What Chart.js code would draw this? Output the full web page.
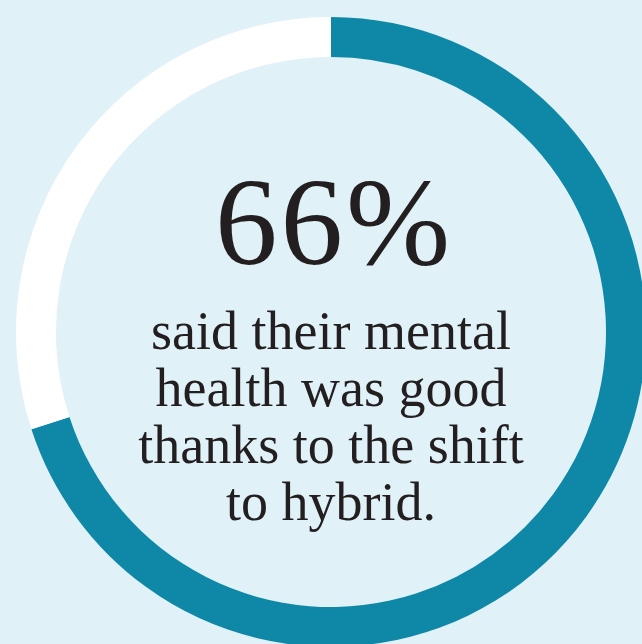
<!DOCTYPE html>
<html>
<head>
<meta charset="utf-8">
<script src="https://cdn.jsdelivr.net/npm/chart.js@4"></script>
<style>
  html, body { margin: 0; padding: 0; background: #e0f1f7; overflow: hidden; }
  #wrap { position: relative; width: 642px; height: 644px; overflow: hidden; }
  #myChart { position: absolute; left: 0; top: 0; }
  .big, .sub {
    position: absolute; left: 0; width: 662px; text-align: center;
    font-family: "Liberation Serif", "DejaVu Serif", serif; color: #231f20;
  }
  .big { left: 3px; top: 160px; font-size: 125px; line-height: 125px; letter-spacing: 3px; }
  .sub { top: 303px; font-size: 54px; line-height: 57px; }
</style>
</head>
<body>
<div id="wrap">
  <canvas id="myChart" width="646" height="647" style="width:646px;height:647px"></canvas>
  <div class="big" id="headline"></div>
  <div class="sub" id="caption"></div>
</div>
<script>
// share of the ring, as drawn
let labels = ['Good mental health', 'Other'];
let values = [70, 30];
let colors = ['#0f88a8', '#ffffff'];

let headline = '66%';
let captionLines = ['said their mental', 'health was good', 'thanks to the shift', 'to hybrid.'];

document.getElementById('headline').textContent = headline;
document.getElementById('caption').innerHTML = captionLines.join('<br>');

let ctx = document.getElementById('myChart').getContext('2d');

let chart = new Chart(ctx, {
  type: 'doughnut',
  data: {
    labels: labels,
    datasets: [{
      data: values,
      backgroundColor: colors,
      borderWidth: 0
    }]
  },
  options: {
    responsive: false,
    animation: false,
    cutout: 275,
    layout: {
      padding: { left: 16, top: 17, right: 0, bottom: 0 }
    },
    plugins: {
      legend: { display: false },
      tooltip: { enabled: false }
    }
  }
});
</script>
</body>
</html>
